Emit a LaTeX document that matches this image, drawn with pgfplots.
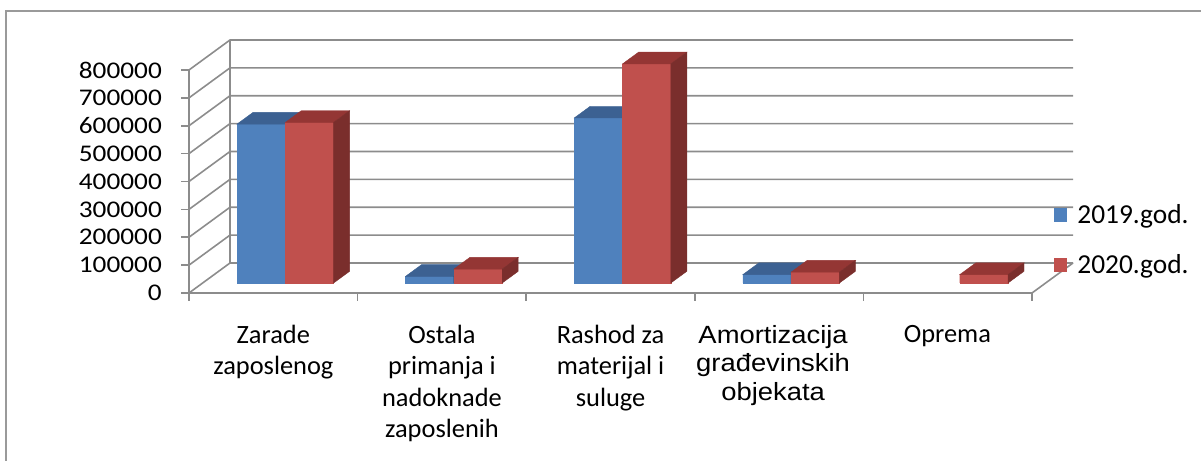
\documentclass[border=0pt]{standalone}
\usepackage{pgfplots}
\pgfplotsset{compat=1.18}
\usepackage{pgfplotstable}
\usepackage{fontspec}
\setmainfont{Carlito}
\newfontfamily\ytfont[FakeStretch=1.14]{Carlito}
\newfontfamily\xlfont{Carlito}
\newfontfamily\amfont[FakeStretch=1.1]{Liberation Sans}
\newcommand\amf{\amfont\fontsize{25}{28.5}\selectfont}
\definecolor{bfront}{HTML}{4F81BD}
\definecolor{btop}{HTML}{3C6192}
\definecolor{bside}{HTML}{2E4B73}
\definecolor{rfront}{HTML}{C0504D}
\definecolor{rtop}{HTML}{943634}
\definecolor{rside}{HTML}{7A2E2C}
\definecolor{gridc}{HTML}{8C8C8C}
\definecolor{framec}{HTML}{9A9A9A}

\pgfplotstableread{
cat v
0 570000
1 24000
2 592000
3 30000
}\tabA
\pgfplotstableread{
cat v
0 576000
1 50000
2 786000
3 39000
4 30000
}\tabB

\newcommand\barheight{%
  \pgfkeys{/pgf/fpu=true,/pgf/fpu/output format=fixed}%
  \pgfmathsetmacro\hh{\val/800000*223}%
  \pgfkeys{/pgf/fpu=false}%
}
\pgfdeclareplotmark{cubeB}{%
  \barheight
  \fill[bfront] (-48.3bp,{-\hh bp}) rectangle (0bp,0bp);
  \fill[btop] (-48.3bp,0bp) -- (0bp,0bp) -- (16bp,11.7bp) -- (-32.3bp,11.7bp) -- cycle;
  \fill[bside] (0bp,0bp) -- (16bp,11.7bp) -- (16bp,{11.7bp-\hh bp}) -- (0bp,{-\hh bp}) -- cycle;
}
\pgfdeclareplotmark{cubeR}{%
  \barheight
  \fill[rfront] (0bp,{-\hh bp}) rectangle (48.3bp,0bp);
  \fill[rtop] (0bp,0bp) -- (48.3bp,0bp) -- (64.3bp,11.7bp) -- (16bp,11.7bp) -- cycle;
  \fill[rside] (48.3bp,0bp) -- (64.3bp,11.7bp) -- (64.3bp,{11.7bp-\hh bp}) -- (48.3bp,{-\hh bp}) -- cycle;
}

\begin{document}
\begin{tikzpicture}
\begin{scope}[x=1bp,y=1bp]
\useasboundingbox (0,0) rectangle (1201,461);
\draw[framec, line width=2.2bp] (6,-2) -- (6,450) -- (1203,450);
\foreach \k in {0,...,8} {
  \pgfmathsetmacro\yf{168+27.875*\k}
  \pgfmathsetmacro\yb{198+27.875*\k}
  \draw[gridc, line width=1.6bp] (189,\yf) -- (230,\yb) -- (1073,\yb);
  \draw[gridc, line width=1.6bp] (181,\yf) -- (189,\yf);
}
\draw[gridc, line width=1.6bp] (230,198) -- (230,421);
\draw[gridc, line width=1.6bp] (189,168) -- (189,391);
\draw[gridc, line width=1.6bp] (189,168) -- (1032,168) -- (1073,198);
\foreach \i in {0,...,5} \draw[gridc, line width=1.6bp] (189+168.6*\i,168) -- (189+168.6*\i,160);
\end{scope}

\begin{axis}[
  at={(202.7bp,178bp)}, anchor=south west,
  scale only axis, width=843bp, height=223bp,
  xmin=0, xmax=5, ymin=0, ymax=800000,
  axis line style={draw=none}, tick style={draw=none},
  major tick length=0pt,
  clip=false,
  scaled y ticks=false,
  /pgf/number format/assume math mode=true,
  ytick={0,100000,200000,300000,400000,500000,600000,700000,800000},
  yticklabels={0,100000,200000,300000,400000,500000,600000,700000,800000},
  yticklabel style={font=\ytfont\fontsize{24}{28}\selectfont, anchor=east, inner sep=0pt, xshift=-40.7bp, yshift=-10bp},
  xtick={0.419,1.419,2.419,3.383,4.417},
  xticklabels={{Zarade\\zaposlenog},{Ostala\\primanja i\\nadoknade\\zaposlenih},{Rashod za\\materijal i\\suluge},{\amf Amortizacija\\[-3bp]\amf građevinskih\\[-3bp]\amf objekata},{Oprema}},
  xticklabel style={align=center, anchor=north, inner sep=0pt, yshift=-42bp, font=\xlfont\fontsize{26.5}{31.5}\selectfont},
  legend style={draw=none, fill=none, at={(1,0)}, anchor=south west, xshift=8bp, yshift=6bp, font=\fontsize{27.5}{30}\selectfont, row sep=25bp, column sep=8bp, cells={anchor=west}, inner sep=0pt},
]
\addplot[ybar, bar width=48.3bp, bar shift=-24.15bp, fill=bfront, draw=none,
  legend image code/.code={\fill[bfront] (0bp,-7bp) rectangle (13.5bp,7bp);}]
  table[x expr=\thisrow{cat}+0.49, y=v]{\tabA};
\addlegendentry{2019.god.}
\addplot[scatter, only marks, mark=cubeB, visualization depends on={\thisrow{v}\as\val}, forget plot]
  table[x expr=\thisrow{cat}+0.49, y=v]{\tabA};
\addplot[ybar, bar width=48.3bp, bar shift=24.15bp, fill=rfront, draw=none,
  legend image code/.code={\fill[rfront] (0bp,-7bp) rectangle (13.5bp,7bp);}]
  table[x expr=\thisrow{cat}+0.49, y=v]{\tabB};
\addlegendentry{2020.god.}
\addplot[scatter, only marks, mark=cubeR, visualization depends on={\thisrow{v}\as\val}, forget plot]
  table[x expr=\thisrow{cat}+0.49, y=v]{\tabB};
\end{axis}
\end{tikzpicture}
\end{document}
